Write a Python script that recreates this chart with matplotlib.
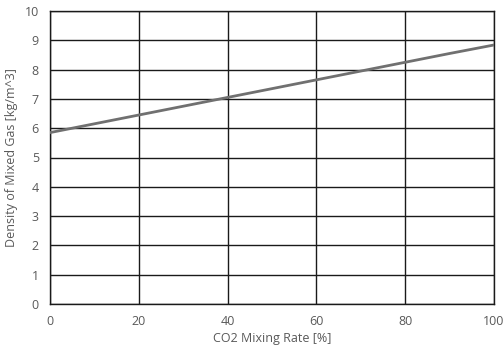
import matplotlib.pyplot as plt

# CO2 mixing rate [%] vs density of mixed gas [kg/m^3]
co2_rate = [0, 10, 20, 30, 40, 50, 60, 70, 80, 90, 100]
density = [5.85, 6.15, 6.45, 6.75, 7.05, 7.35, 7.65, 7.95, 8.25, 8.55, 8.84]

x_ticks = [0, 20, 40, 60, 80, 100]
y_ticks = list(range(0, 11))

plt.rcParams['font.family'] = ['Open Sans', 'DejaVu Sans']
txt = '#595959'

fig = plt.figure(figsize=(5.03, 3.5), dpi=100)
ax = fig.add_axes([50 / 503, 1 - 304 / 350, 444 / 503, 293 / 350])

ax.plot(co2_rate, density, color='#707070', lw=2, zorder=3)

ax.set_xlim(0, 100)
ax.set_ylim(0, 10)
ax.set_xticks(x_ticks)
ax.set_yticks(y_ticks)
ax.grid(True, color='#1a1a1a', lw=1)
ax.set_axisbelow(True)
for s in ax.spines.values():
    s.set_color('#1a1a1a')
    s.set_linewidth(1)
ax.tick_params(length=0, labelsize=9, labelcolor=txt, pad=8)

ax.set_xlabel('CO2 Mixing Rate [%]', fontsize=9, color=txt, labelpad=3)
ax.set_ylabel('Density of Mixed Gas [kg/m^3]', fontsize=9, color=txt, labelpad=5)

fig.savefig('out.png', dpi=100)
